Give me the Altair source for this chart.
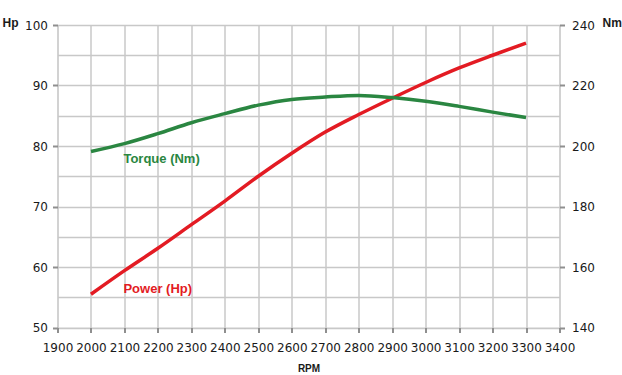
import altair as alt
import pandas as pd

rpm = [2000, 2100, 2200, 2300, 2400, 2500, 2600, 2700, 2800, 2900, 3000, 3100, 3200, 3300]
power_hp = [55.5, 59.4, 63.1, 67.0, 70.9, 75.0, 78.8, 82.3, 85.2, 87.9, 90.5, 92.9, 95.0, 97.0]
torque_nm = [198.2, 200.8, 204.1, 207.7, 210.7, 213.5, 215.4, 216.2, 216.7, 216.0, 214.8, 213.1, 211.2, 209.4]

x_ticks = list(range(1900, 3401, 100))
hp_ticks = [50, 60, 70, 80, 90, 100]
hp_grid = [50, 55, 60, 65, 70, 75, 80, 85, 90, 95, 100]
nm_ticks = [140, 160, 180, 200, 220, 240]

power_label = ["Power (Hp)"]
power_label_rpm = [2097]
power_label_val = [56.4]
torque_label = ["Torque (Nm)"]
torque_label_rpm = [2097]
torque_label_val = [195.8]

RED = "#e31b23"
GREEN = "#2a8641"
FRAME = "#8f8f8f"
FONT = "DejaVu Sans"

df = pd.DataFrame({"rpm": rpm, "power": power_hp, "torque": torque_nm})
df_pl = pd.DataFrame({"rpm": power_label_rpm, "power": power_label_val, "text": power_label})
df_tl = pd.DataFrame({"rpm": torque_label_rpm, "torque": torque_label_val, "text": torque_label})

x_scale = alt.Scale(domain=[1900, 3400], nice=False, zero=False)
x_axis = alt.Axis(values=x_ticks, format="d", grid=True, gridColor="#c8c8c8", gridWidth=1.5,
                  domain=False, ticks=True, tickSize=5, tickWidth=2, tickColor=FRAME,
                  labelFont=FONT, labelFontSize=12, labelColor="#1a1a1a", labelPadding=10,
                  labelFlush=False, labelOverlap=False,
                  title="RPM", titleFont="Liberation Sans", titleFontSize=10, titleFontWeight="bold",
                  titleColor="#1a1a1a", titleY=40.5, titleBaseline="middle")
X = alt.X("rpm:Q", scale=x_scale, axis=x_axis)

hp_scale = alt.Scale(domain=[50, 100], nice=False, zero=False)
nm_scale = alt.Scale(domain=[140, 240], nice=False, zero=False)

grid_axis = alt.Axis(values=hp_grid, orient="left", grid=True, gridColor="#c8c8c8", gridWidth=1.5,
                     labels=False, ticks=False, domain=False, title=None)
hp_axis = alt.Axis(values=hp_ticks, orient="left", grid=False, domain=False,
                   ticks=True, tickSize=5, tickWidth=2, tickColor=FRAME,
                   labelFont=FONT, labelFontSize=12, labelColor="#1a1a1a", labelPadding=5,
                   labelFlush=False,
                   title="Hp", titleAngle=0, titleX=-55.5, titleY=-3, titleAlign="left",
                   titleBaseline="middle", titleFont="Liberation Sans", titleFontSize=12,
                   titleFontWeight="bold", titleColor="#1a1a1a")
nm_axis = alt.Axis(values=nm_ticks, orient="right", grid=False, domain=False,
                   ticks=True, tickSize=5, tickWidth=2, tickColor=FRAME,
                   labelFont=FONT, labelFontSize=12, labelColor="#1a1a1a", labelPadding=7,
                   labelFlush=False,
                   title="Nm", titleAngle=0, titleX=42.5, titleY=-3, titleAlign="left",
                   titleBaseline="middle", titleFont="Liberation Sans", titleFontSize=12,
                   titleFontWeight="bold", titleColor="#1a1a1a")

grid = alt.Chart(df).mark_point(opacity=0).encode(
    x=X, y=alt.Y("power:Q", scale=hp_scale, axis=grid_axis))

power_line = alt.Chart(df).mark_line(color=RED, strokeWidth=3.5, interpolate="monotone").encode(
    x=X, y=alt.Y("power:Q", scale=hp_scale, axis=hp_axis))
power_text = alt.Chart(df_pl).mark_text(color=RED, font="Liberation Sans", fontSize=13,
                                        fontWeight="bold", align="left", baseline="middle").encode(
    x=X, y=alt.Y("power:Q", scale=hp_scale, axis=hp_axis), text="text:N")

torque_line = alt.Chart(df).mark_line(color=GREEN, strokeWidth=3.5, interpolate="monotone").encode(
    x=X, y=alt.Y("torque:Q", scale=nm_scale, axis=nm_axis))
torque_text = alt.Chart(df_tl).mark_text(color=GREEN, font="Liberation Sans", fontSize=13,
                                         fontWeight="bold", align="left", baseline="middle").encode(
    x=X, y=alt.Y("torque:Q", scale=nm_scale, axis=nm_axis), text="text:N")

chart = alt.layer(
    grid,
    alt.layer(power_line, power_text),
    alt.layer(torque_line, torque_text),
).resolve_scale(y="independent").properties(
    width=502, height=302.5,
    padding={"left": 57.5, "top": 25, "right": 62.5, "bottom": 47.5},
    autosize="none",
).configure_view(stroke=FRAME, strokeWidth=2).configure(background="white")

chart.save("out.html", embed_options={"renderer": "svg", "actions": False})
